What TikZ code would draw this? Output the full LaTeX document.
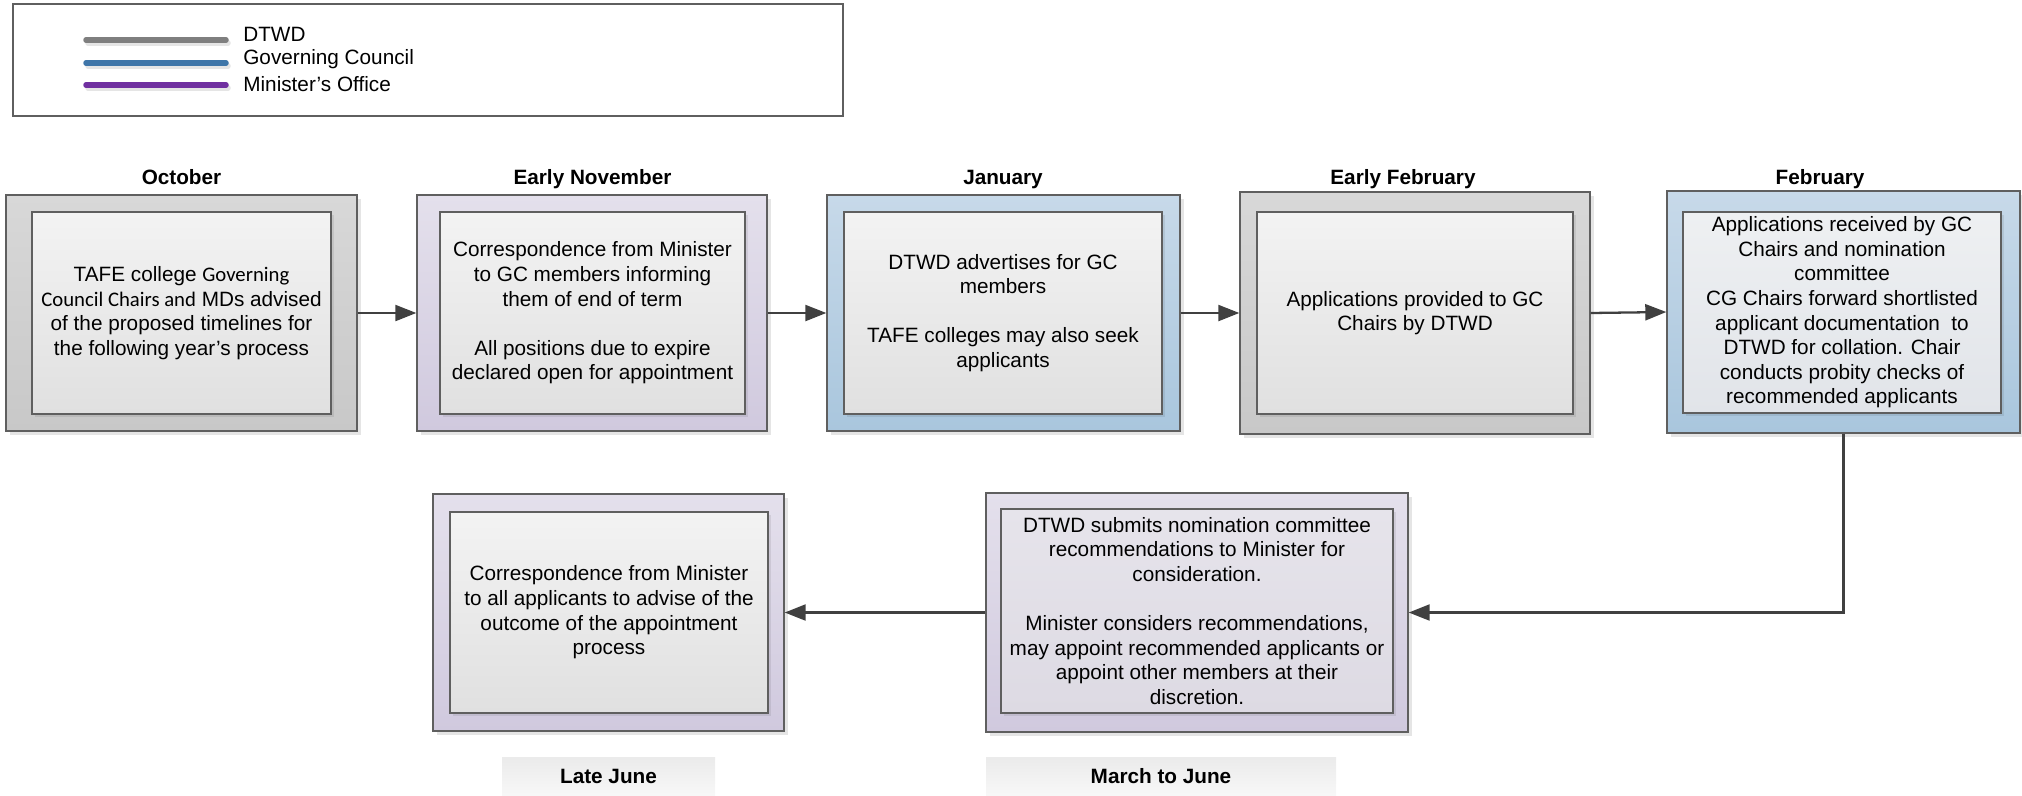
\documentclass[tikz,border=0pt]{standalone}
\usepackage{fontspec}
\setmainfont{Liberation Sans}
\newfontfamily\carlito{Carlito}
\usetikzlibrary{arrows.meta,shadows}

\definecolor{edgegrey}{HTML}{5F5F5F}
\definecolor{arrowgrey}{HTML}{404040}
\definecolor{greyA}{HTML}{D8D8D8}
\definecolor{greyB}{HTML}{C8C8C8}
\definecolor{purpA}{HTML}{E4E0EC}
\definecolor{purpB}{HTML}{D0C9DE}
\definecolor{blueA}{HTML}{C7D9E9}
\definecolor{blueB}{HTML}{A9C6DD}
\definecolor{innerA}{HTML}{F3F3F3}
\definecolor{innerB}{HTML}{E0E0E0}
\definecolor{lavA}{HTML}{E6E4EB}
\definecolor{lavB}{HTML}{DDDAE3}
\definecolor{paleA}{HTML}{EEF0F2}
\definecolor{paleB}{HTML}{E1E4E9}
\definecolor{dtwdgrey}{HTML}{7F7F7F}
\definecolor{gcblue}{HTML}{3F76A9}
\definecolor{minpurple}{HTML}{7030A0}

\begin{document}
\begin{tikzpicture}[x=0.02cm,y=-0.02cm,
    every node/.style={font=\fontsize{11.8}{14}\selectfont},
    boxsize/.style 2 args={minimum width=#1*0.02cm,minimum height=#2*0.02cm},
    outerbox/.style={draw=edgegrey,line width=0.8pt,inner sep=0pt,
        drop shadow={shadow xshift=0.08cm,shadow yshift=-0.08cm,fill=black,opacity=0.1}},
    greybox/.style={outerbox,top color=greyA,bottom color=greyB},
    purplebox/.style={outerbox,top color=purpA,bottom color=purpB},
    bluebox/.style={outerbox,top color=blueA,bottom color=blueB},
    innerbox/.style={draw=edgegrey,line width=0.6pt,align=center,inner sep=2pt,
        top color=innerA,bottom color=innerB,
        drop shadow={shadow xshift=0.06cm,shadow yshift=-0.06cm,fill=black,opacity=0.08}},
    title/.style={font=\fontsize{11.8}{14}\selectfont\bfseries,anchor=base},
    datebox/.style={font=\fontsize{11.8}{14}\selectfont\bfseries,top color=black!8,bottom color=black!3,inner sep=0pt},
    flow/.style={draw=arrowgrey,line width=1.3pt,-{Triangle[length=0.42cm,width=0.32cm]}},
    keyline/.style={line width=0.11cm,line cap=round}
]
    \useasboundingbox (0,0) rectangle (2022,795);

    % legend
    \node[draw=edgegrey,line width=0.6pt,boxsize={830}{112}] (legend) at (428,60) {};
    \foreach \y/\c in {40/dtwdgrey,63/gcblue,85/minpurple}{
        \draw[keyline,black!10] (88,\y+3) -- (228,\y+3);
        \draw[keyline,\c] (86,\y) -- (226,\y);
    }
    \node[anchor=west,inner sep=0pt] (dtwdkey) at (243,34) {DTWD};
    \node[anchor=west,inner sep=0pt] (gckey) at (243,59) {Governing Council};
    \node[anchor=west,inner sep=0pt] (minkey) at (243,84) {Minister’s Office};

    % top row
    \node[greybox,boxsize={351}{236}] (oct) at (181.5,313) {};
    \node[innerbox,boxsize={299}{202}] (octtext) at (181.5,313)
        {TAFE college {\carlito Governing}\\{\carlito Council Chairs and} MDs advised\\of the proposed timelines for\\the following year’s process};
    \node[title] (octlabel) at (181.5,184) {October};

    \node[purplebox,boxsize={350}{236}] (nov) at (592,313) {};
    \node[innerbox,boxsize={305}{202}] (novtext) at (592.5,313)
        {Correspondence from Minister\\to GC members informing\\them of end of term\\[14pt]All positions due to expire\\declared open for appointment};
    \node[title] (novlabel) at (592.5,184) {Early November};

    \node[bluebox,boxsize={353}{236}] (jan) at (1003.5,313) {};
    \node[innerbox,boxsize={318}{202}] (jantext) at (1003,313)
        {DTWD advertises for GC\\members\\[14pt]TAFE colleges may also seek\\applicants};
    \node[title] (janlabel) at (1003,184) {January};

    \node[greybox,boxsize={350}{242}] (efeb) at (1415,313) {};
    \node[innerbox,boxsize={316}{202}] (efebtext) at (1415,313)
        {Applications provided to GC\\Chairs by DTWD};
    \node[title] (efeblabel) at (1403,184) {Early February};

    \node[bluebox,boxsize={353}{242}] (feb) at (1843.5,312) {};
    \node[innerbox,top color=paleA,bottom color=paleB,boxsize={318}{201}] (febtext) at (1842,312.5)
        {Applications received by GC\\Chairs and nomination\\committee\\CG Chairs forward shortlisted\\applicant documentation\ \ to\\DTWD for collation. Chair\\conducts probity checks of\\recommended applicants};
    \node[title] (feblabel) at (1820,184) {February};

    % bottom row
    \node[purplebox,boxsize={422}{239}] (mar) at (1197,612.5) {};
    \node[innerbox,top color=lavA,bottom color=lavB,boxsize={392}{204}] (martext) at (1197,611)
        {DTWD submits nomination committee\\recommendations to Minister for\\consideration.\\[14pt]Minister considers recommendations,\\may appoint recommended applicants or\\appoint other members at their\\discretion.};
    \node[datebox,boxsize={350}{38}] (marlabel) at (1161,776) {March to June};

    \node[purplebox,boxsize={351}{237}] (jun) at (608.5,612.5) {};
    \node[innerbox,boxsize={318}{201}] (juntext) at (609,612.5)
        {Correspondence from Minister\\to all applicants to advise of the\\outcome of the appointment\\process};
    \node[datebox,boxsize={213}{38}] (junlabel) at (608.5,776) {Late June};

    % connectors
    \draw[flow] (oct.east) -- (nov.west);
    \draw[flow] (nov.east) -- (jan.west);
    \draw[flow] (jan.east) -- (efeb.west);
    \draw[flow] (efeb.east) -- (feb.west);
    \draw[flow] (feb.south) |- (mar.east);
    \draw[flow] (mar.west) -- (jun.east);
\end{tikzpicture}
\end{document}
